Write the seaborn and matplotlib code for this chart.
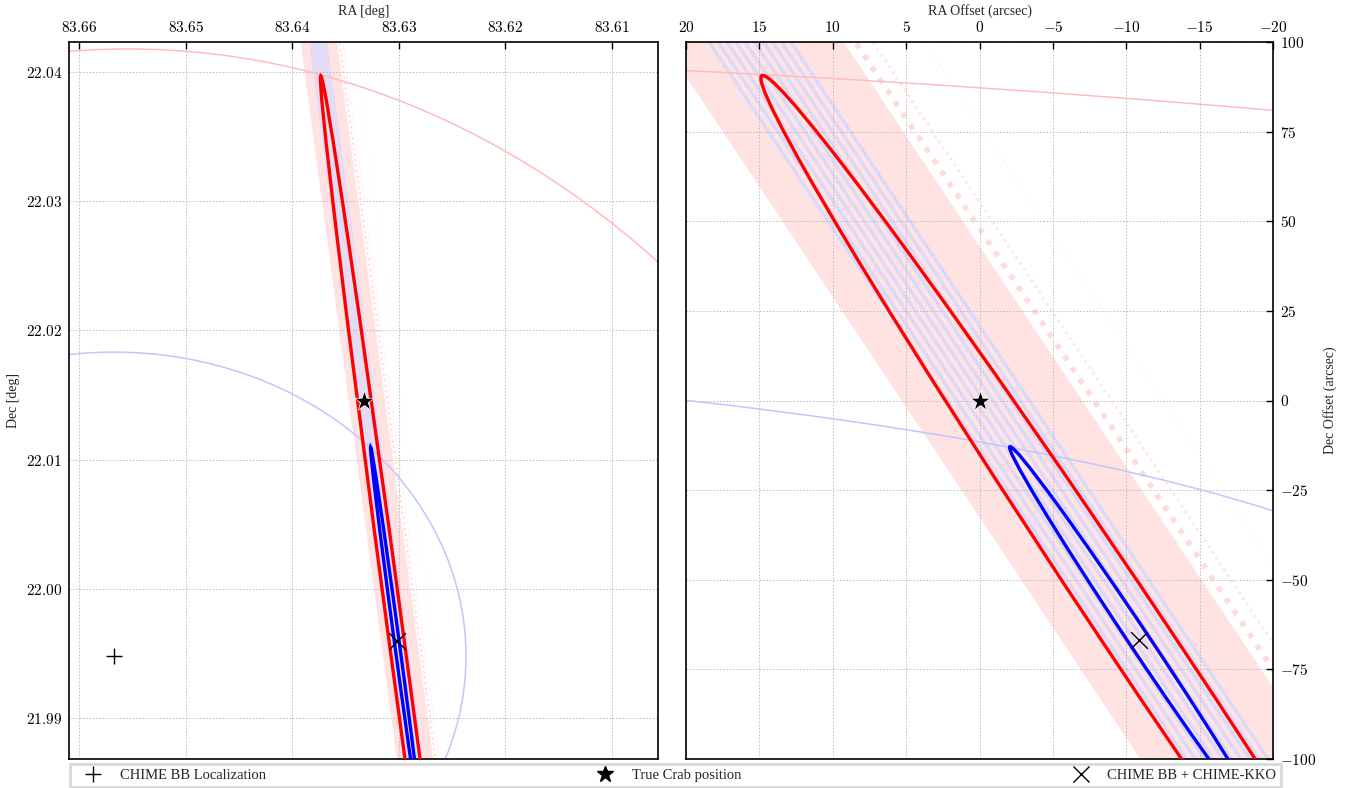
import numpy as np
import matplotlib
matplotlib.use("Agg")
import matplotlib.pyplot as plt
import seaborn as sns
from matplotlib.patches import Ellipse
from matplotlib.transforms import Affine2D
from matplotlib.lines import Line2D
from matplotlib.ticker import FuncFormatter, MultipleLocator

# True Crab position (deg)
crab_ra, crab_dec = 83.63322, 22.01453

# markers: offsets in arcsec (RA, Dec) from the Crab
marker_labels = ['CHIME BB Localization', 'True Crab position', 'CHIME BB + CHIME-KKO']
marker_dx = [84.6, 0.0, -10.88]
marker_dy = [-71.05, 0.0, -66.85]
marker_shapes = ['+', '*', 'x']
marker_sizes = [11, 15, 12]

# localization contours (red: outer, blue: inner)
contour_dx = [-10.88, -10.88]
contour_dy = [-66.85, -66.85]
contour_a = [159.6, 54.7]
contour_b = [2.54, 0.81]
contour_angle = [80.75, 80.75]
contour_colors = ['red', 'blue']

# faint big rings
ring_dx = [80.0, 84.6]
ring_dy = [-201.9, -71.05]
ring_w = [600.0, 237.8]
ring_h = [600.0, 169.4]
ring_colors = ['#ffbcbc', '#c4c4ff']

# fringe band (edge dx at dy=0, slope d(dx)/d(dy))
band_left = 5.3
band_right = -7.0
band_slope = 0.1626
stripe_x0 = [-3.4, -2.78, -2.16, -1.54, -0.92, -0.3, 0.32, 0.94, 1.56, 2.18]
dotted_x0 = [-7.8, -9.0, -12.5]
dotted_lw = [4.0, 2.0, 1.0]
dotted_col = ['#ffdcdc', '#ffe6e6', '#ffefef']

sns.set_style("white")
plt.rcParams['font.family'] = ['Liberation Serif', 'DejaVu Serif']
plt.rcParams['mathtext.fontset'] = 'cm'
plt.rcParams['font.size'] = 10

fig = plt.figure(figsize=(13.51, 7.88), dpi=100)
axL = fig.add_axes([69 / 1351, 29 / 788, 589 / 1351, 717 / 788])
axR = fig.add_axes([686 / 1351, 29 / 788, 587 / 1351, 717 / 788])

trL = Affine2D().scale(1 / 3600, 1 / 3600).translate(crab_ra, crab_dec) + axL.transData
trR = axR.transData


def to_radec(dx, dy):
    return crab_ra + np.asarray(dx) / 3600, crab_dec + np.asarray(dy) / 3600


def draw(ax, tr, left):
    dy_ext = np.array([-320.0, 320.0])
    poly_x = [band_left + band_slope * dy_ext[0], band_left + band_slope * dy_ext[1],
              band_right + band_slope * dy_ext[1], band_right + band_slope * dy_ext[0]]
    poly_y = [dy_ext[0], dy_ext[1], dy_ext[1], dy_ext[0]]
    ax.fill(poly_x, poly_y, color='#ffe3e3', lw=0, transform=tr, zorder=1)
    for x0 in stripe_x0:
        ax.plot(x0 + band_slope * dy_ext, dy_ext, color='#d9d9fc', lw=2.4 if not left else 0.9,
                transform=tr, zorder=1.2)
    for x0, lw, c in zip(dotted_x0, dotted_lw, dotted_col):
        ax.plot(x0 + band_slope * dy_ext, dy_ext, color=c, lw=lw if not left else lw * 0.4,
                ls=(0, (1, 1.5)), transform=tr, zorder=1.2)
    for cx, cy, w, h, c in zip(ring_dx, ring_dy, ring_w, ring_h, ring_colors):
        ax.add_patch(Ellipse((cx, cy), w, h, fill=False, ec=c, lw=1.1, transform=tr, zorder=2))
    for cx, cy, a, b, ang, c in zip(contour_dx, contour_dy, contour_a, contour_b,
                                     contour_angle, contour_colors):
        ax.add_patch(Ellipse((cx, cy), 2 * a, 2 * b, angle=ang, fill=False, ec=c, lw=2.4,
                             transform=tr, zorder=3))
    if left:
        mx, my = to_radec(marker_dx, marker_dy)
    else:
        mx, my = np.array(marker_dx), np.array(marker_dy)
    for x, y, m, s in zip(mx, my, marker_shapes, marker_sizes):
        sns.scatterplot(x=[x], y=[y], marker=m, s=s ** 2, color='black',
                        linewidth=1.0 if m != '*' else 0.5, ax=ax, zorder=4)


draw(axL, trL, True)
draw(axR, trR, False)

fmt2 = FuncFormatter(lambda v, p: r'$\mathrm{%.2f}$' % v)
fmtd = FuncFormatter(lambda v, p: r'$\mathrm{%d}$' % round(v))

# left panel
axL.set_xlim(83.66094, 83.60568)
axL.set_ylim(21.98683, 22.04232)
axL.xaxis.set_major_locator(MultipleLocator(0.01))
axL.yaxis.set_major_locator(MultipleLocator(0.01))
axL.xaxis.set_major_formatter(fmt2)
axL.yaxis.set_major_formatter(fmt2)
axL.xaxis.tick_top()
axL.xaxis.set_label_position('top')
axL.set_xlabel('RA [deg]', fontsize=10)
axL.set_ylabel('Dec [deg]', fontsize=10)

# right panel
axR.set_xlim(20, -20)
axR.set_ylim(-100, 100)
axR.xaxis.set_major_locator(MultipleLocator(5))
axR.yaxis.set_major_locator(MultipleLocator(25))
axR.xaxis.set_major_formatter(fmtd)
axR.yaxis.set_major_formatter(fmtd)
axR.xaxis.tick_top()
axR.xaxis.set_label_position('top')
axR.yaxis.tick_right()
axR.yaxis.set_label_position('right')
axR.set_xlabel('RA Offset (arcsec)', fontsize=10)
axR.set_ylabel('Dec Offset (arcsec)', fontsize=10, labelpad=5)

for ax in (axL, axR):
    ax.set_axisbelow('line')
    ax.grid(True, color='#b8b8b8', ls=(0, (2, 2)), lw=0.6)
    ax.tick_params(direction='in', length=5, width=1, labelsize=11, colors='black', pad=5)
    for sp in ax.spines.values():
        sp.set_linewidth(1.2)
        sp.set_color('black')

handles = [Line2D([], [], marker=m, color='black', ls='none', ms=min(s, 12), mew=1.0)
           for m, s in zip(marker_shapes, marker_sizes)]
leg = fig.legend(handles, marker_labels, loc='lower left',
                 bbox_to_anchor=(70 / 1351, 1 / 788, 1211 / 1351, 26 / 788),
                 mode='expand', ncol=3, frameon=True, fancybox=False, borderaxespad=0,
                 fontsize=10.5, borderpad=0.35, handlelength=2.5, handletextpad=0.55)
leg.get_frame().set_edgecolor('#d0d0d0')
leg.get_frame().set_linewidth(2)

fig.savefig('out.png', dpi=100)
